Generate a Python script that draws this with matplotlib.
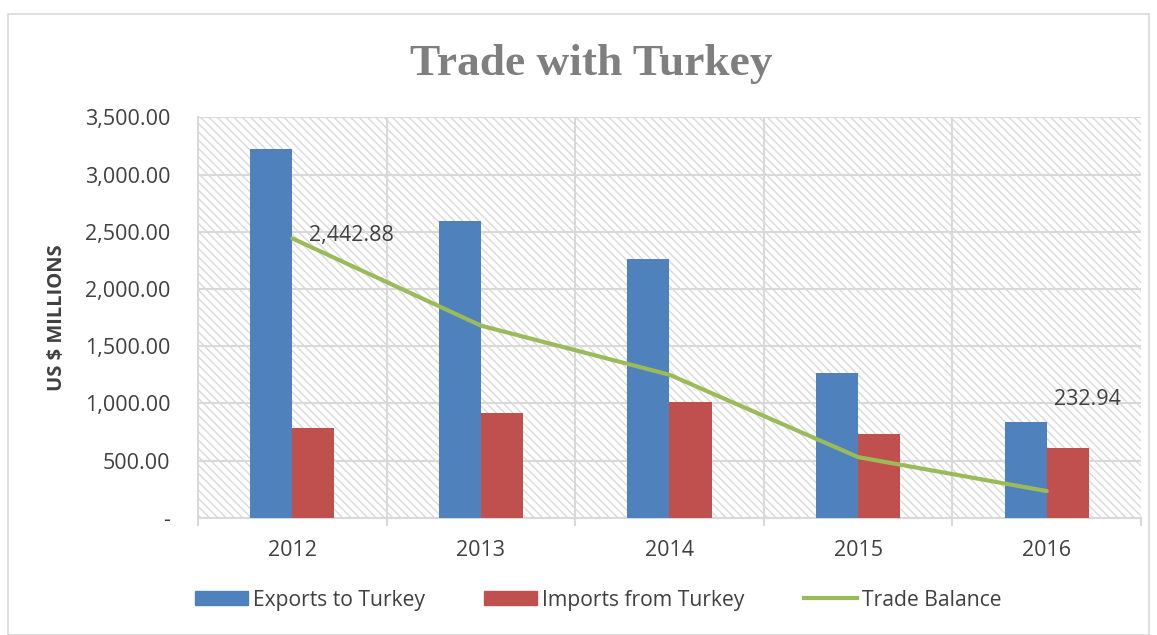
import numpy as np
import matplotlib
matplotlib.use('Agg')
import matplotlib.pyplot as plt
from matplotlib.patches import Rectangle, Patch
from matplotlib.lines import Line2D
from matplotlib.ticker import FuncFormatter

years = ['2012', '2013', '2014', '2015', '2016']
exports = [3225, 2598, 2263, 1266, 840]
imports = [782, 916, 1012, 731, 607]
balance = [2442.88, 1680, 1250, 530, 232.94]

plt.rcParams['font.family'] = ['Open Sans', 'DejaVu Sans']
plt.rcParams['hatch.linewidth'] = 1.0
plt.rcParams['hatch.color'] = '#d9d9d9'

fig = plt.figure(figsize=(11.57, 6.35), dpi=100)
fig.patches.append(Rectangle((8 / 1157, 0), 1 - 16 / 1157, 1 - 14 / 635,
                             transform=fig.transFigure, fill=False,
                             edgecolor='#d9d9d9', lw=1.2))

ax = fig.add_axes([0.1711, 0.1847, 0.8151, 0.6303])
x = np.arange(len(years))
w = 0.223

# hatched background
ax.add_patch(Rectangle((0, 0), 1, 1, transform=ax.transAxes, facecolor='white',
                       edgecolor='#d9d9d9', hatch='\\\\\\\\', lw=0, zorder=0))

for v in np.arange(500, 3501, 500):
    ax.axhline(v, color='#d9d9d9', lw=1.5, zorder=1)
for b in np.arange(0.5, len(years) - 0.5, 1):
    ax.axvline(b, color='#d9d9d9', lw=1.5, zorder=1)

ax.bar(x - w / 2, exports, w, color='#4f81bd', zorder=3)
ax.bar(x + w / 2, imports, w, color='#c0504d', zorder=3)
ax.plot(x, balance, color='#9bbb59', lw=3, zorder=4, solid_capstyle='round')

ax.annotate(f'{balance[0]:,.2f}', (x[0], balance[0]), xytext=(12, 2),
            textcoords='offset points', fontsize=15.5, color='#404040', va='center')
ax.annotate(f'{balance[-1]:,.2f}', (x[-1], balance[-1]), xytext=(5, 66),
            textcoords='offset points', fontsize=15.5, color='#404040', va='center')

ax.set_xlim(-0.5, len(years) - 0.5)
ax.set_ylim(0, 3500)
ax.set_yticks(np.arange(0, 3501, 500))
ax.yaxis.set_major_formatter(FuncFormatter(lambda v, p: '-' if v == 0 else f'{v:,.2f}'))
ax.set_xticks(x)
ax.set_xticklabels(years)
ax.set_xticks(np.arange(-0.5, len(years), 1), minor=True)
ax.tick_params(axis='x', which='major', length=0, pad=16, labelsize=15.5, labelcolor='#404040')
ax.tick_params(axis='x', which='minor', length=6, color='#d9d9d9', width=1.5)
ax.tick_params(axis='y', length=0, pad=20, labelsize=15.5, labelcolor='#404040')
for s in ['top', 'right']:
    ax.spines[s].set_visible(False)
ax.spines['left'].set_color('#d9d9d9')
ax.spines['left'].set_linewidth(1.5)
ax.spines['bottom'].set_color('#d9d9d9')
ax.spines['bottom'].set_linewidth(1.5)

ax.set_ylabel('US $ MILLIONS', fontsize=14.5, fontweight='bold', color='#404040')
ax.yaxis.set_label_coords(-0.139, 0.5)

fig.text(0.511, 1 - 75 / 635, 'Trade with Turkey', fontsize=32.7, fontweight='bold',
         family='Liberation Serif', color='#7f7f7f', ha='center', va='baseline')

handles = [Patch(color='#4f81bd'), Patch(color='#c0504d'),
           Line2D([], [], color='#9bbb59', lw=3)]
labels = ['Exports to Turkey', 'Imports from Turkey', 'Trade Balance']
fig.legend(handles, labels, loc='center', bbox_to_anchor=(0.517, 0.055), ncol=3,
           frameon=False, fontsize=15.2, labelcolor='#404040', handlelength=2.5,
           handleheight=0.65, handletextpad=0.25, columnspacing=2.8)

fig.savefig('out.png', dpi=100)
